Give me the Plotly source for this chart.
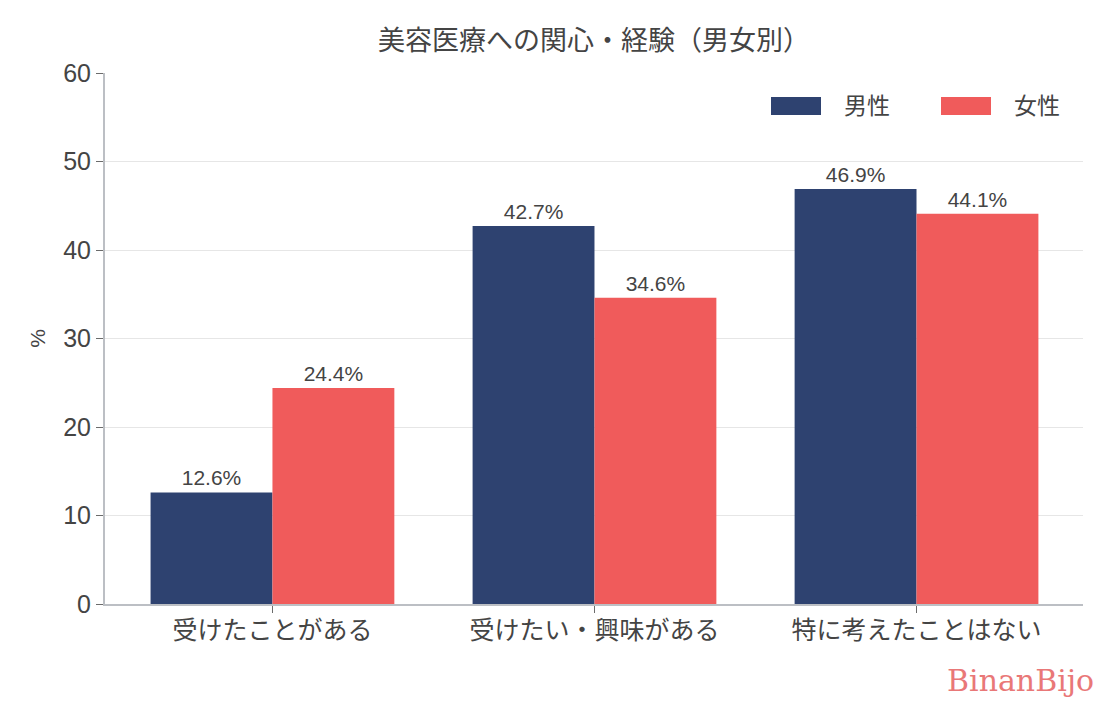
import plotly.graph_objects as go

categories = ["受けたことがある", "受けたい・興味がある", "特に考えたことはない"]
male = [12.6, 42.7, 46.9]
female = [24.4, 34.6, 44.1]
series_names = ["男性", "女性"]
y_ticks = [0, 10, 20, 30, 40, 50, 60]

NAVY = "#2E4270"
RED = "#F05B5B"
FONT = "Liberation Sans, Noto Sans CJK JP"
JFONT = "Noto Sans CJK JP"
TXT = "#444444"

fig = go.Figure()
for name, vals, col in [(series_names[0], male, NAVY), (series_names[1], female, RED)]:
    fig.add_trace(go.Bar(
        x=categories, y=vals, name=name, marker=dict(color=col, line=dict(width=0)),
        text=[f"{v}%" for v in vals], textposition="outside",
        textfont=dict(size=21, color=TXT, family=FONT), cliponaxis=False,
        showlegend=False,
    ))

fig.update_layout(
    width=1110, height=705,
    margin=dict(l=105, r=27, t=73, b=101),
    paper_bgcolor="white", plot_bgcolor="white",
    barmode="group", bargap=0.243, bargroupgap=0,
    font=dict(family=FONT, color=TXT),
    title=dict(text="美容医療への関心・経験（男女別）", xref="paper", x=0.5, xanchor="center",
               y=0.943, yanchor="middle", font=dict(size=27, color=TXT, family=JFONT)),
    xaxis=dict(range=[-0.52, 2.517], showline=True, linecolor="#BCBFC4", linewidth=2,
               ticks="outside", ticklen=7, tickcolor="#6b6b6b", tickwidth=1,
               ticklabelstandoff=-4,
               tickfont=dict(size=25, color=TXT, family=JFONT), showgrid=False),
    yaxis=dict(range=[0, 60], tickvals=y_ticks, showline=True, linecolor="#BCBFC4", linewidth=2,
               ticks="outside", ticklen=7, tickcolor="#6b6b6b", tickwidth=1,
               gridcolor="#E6E6E6", gridwidth=1, zeroline=False,
               tickfont=dict(size=25, color=TXT, family=FONT),
               title=dict(text="%", font=dict(size=21, color=TXT, family=FONT), standoff=12)),
    showlegend=False,
)

# manual legend
legend_items = [(series_names[0], NAVY, 771), (series_names[1], RED, 941)]
for name, col, x0 in legend_items:
    fig.add_shape(type="rect", xref="paper", yref="paper",
                  x0=(x0 - 105) / 978, x1=(x0 + 50 - 105) / 978,
                  y0=(604 - 115) / 531, y1=(604 - 97) / 531,
                  fillcolor=col, line=dict(width=0))
    fig.add_annotation(xref="paper", yref="paper", x=(x0 + 71 - 105) / 978, y=(604 - 104) / 531,
                       text=name, showarrow=False, xanchor="left", yanchor="middle",
                       font=dict(size=23, color=TXT, family=JFONT))

fig.add_annotation(xref="paper", yref="paper", x=1.013, y=-0.145, text="BinanBijo",
                   showarrow=False, xanchor="right", yanchor="middle",
                   font=dict(size=30, color="#E97878", family="DejaVu Serif"))

fig.write_html("out.html")
